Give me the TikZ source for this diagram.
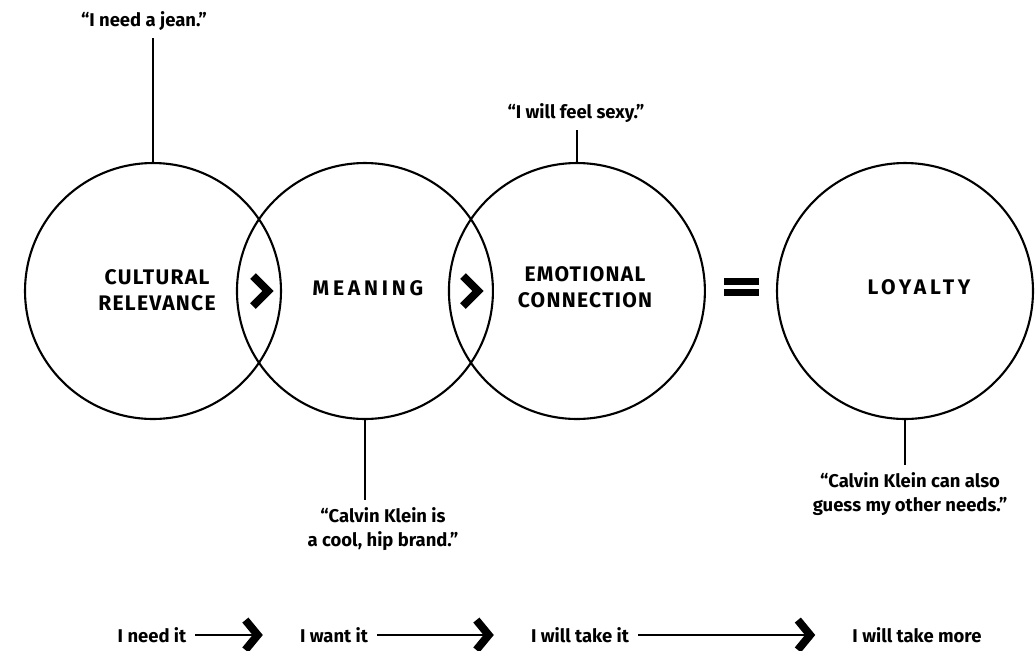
\documentclass[tikz,border=0pt]{standalone}
\usepackage{fontspec}
\setmainfont{Fira Sans}
\usepackage{tikz}
\usetikzlibrary{arrows.meta,positioning}
\tikzstyle{ring} = [draw, circle, line width=1.2pt, minimum size=5.12cm, inner sep=0pt]
\tikzstyle{caps} = [font=\bfseries\fontsize{12}{15}\selectfont\addfontfeatures{LetterSpace=6}, align=center, inner sep=0pt]
\tikzstyle{widecaps} = [font=\bfseries\fontsize{12}{15}\selectfont\addfontfeatures{LetterSpace=18}, inner sep=0pt]
\tikzstyle{quote} = [font=\bfseries\fontsize{10.5}{13.5}\selectfont, align=center, inner sep=1pt]
\tikzstyle{stage} = [font=\bfseries\fontsize{10.5}{12}\selectfont, inner sep=1pt]
\tikzstyle{leader} = [draw, line width=1.1pt]
\tikzstyle{line} = [draw, line width=1pt, shorten <=4pt, shorten >=20pt, -{Straight Barb[sharp, length=7pt, width=17pt, line width=4.5pt]}]
\tikzstyle{chev} = [line width=4.5pt, line join=miter, line cap=butt]

\begin{document}
\begin{tikzpicture}[x=0.02cm, y=-0.02cm, node distance=4.24cm]
        \useasboundingbox (0,0) rectangle (1035,650);
        % the four circles
        \node[ring] (cult) at (153,291) {};
        \node[ring, right of=cult] (mean) {};
        \node[ring, right of=mean] (emot) {};
        \node[ring] (loyal) at (905,291) {};
        \node[caps] (cultlbl) at (157,290) {CULTURAL\\RELEVANCE};
        \node[widecaps] (meanlbl) at (368,288) {MEANING};
        \node[caps] (emotlbl) at (585,287) {EMOTIONAL\\CONNECTION};
        \node[widecaps] (loyallbl) at (919,287) {LOYALTY};
        % chevrons and equals sign
        \foreach \x in {262,472}
            \draw[chev] ({\x-9},276) -- ({\x+6},291) -- ({\x-9},306);
        \fill (724,278) rectangle (759,285);
        \fill (724,289) rectangle (759,296);
        % quotes
        \node[quote] (jean) at (144,21) {“I need a jean.”};
        \node[quote] (sexy) at (576,113) {“I will feel sexy.”};
        \node[quote] (cool) at (383,529) {“Calvin Klein is\\a cool, hip brand.”};
        \node[quote] (needs) at (910,494) {“Calvin Klein can also\\guess my other needs.”};
        \path[leader, shorten >=3pt] (cult.north) -- (cult.north |- jean.south);
        \path[leader, shorten >=3pt] (emot.north) -- (emot.north |- sexy.south);
        \path[leader, shorten >=3pt] (mean.south) -- (mean.south |- cool.north);
        \path[leader, shorten >=3pt] (loyal.south) -- (loyal.south |- needs.north);
        % bottom row
        \node[stage] (need) at (152,635) {I need it};
        \node[stage] (want) at (334,635) {I want it};
        \node[stage] (take) at (580,635) {I will take it};
        \node[stage] (more) at (917,635) {I will take more};
        \path[line] (need) -- (want);
        \path[line] (want) -- (take);
        \path[line] (take) -- (more);
    \end{tikzpicture}
\end{document}
